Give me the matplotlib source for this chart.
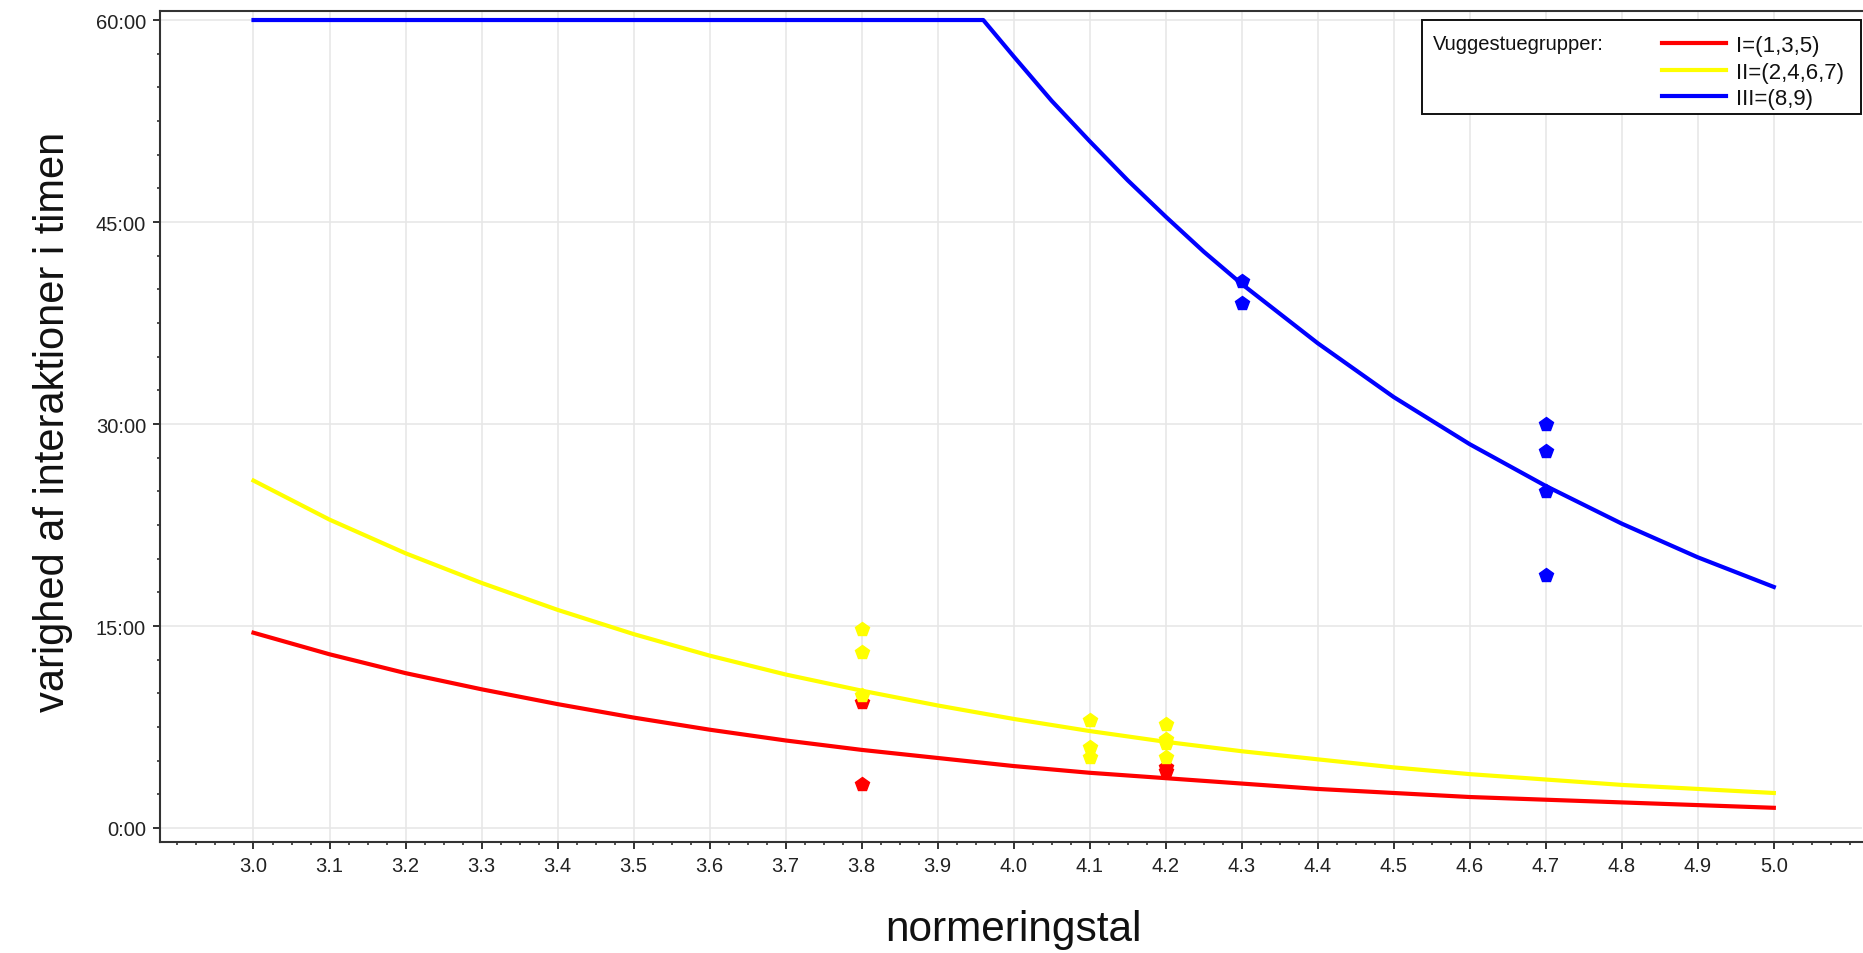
import matplotlib
matplotlib.use('Agg')
import matplotlib.pyplot as plt
from matplotlib.ticker import MultipleLocator, FuncFormatter
from matplotlib.patches import Rectangle

plt.rcParams['font.family'] = ['Liberation Sans', 'DejaVu Sans']

# Curves (normeringstal -> minutes per hour)
x_curve = [3.0, 3.1, 3.2, 3.3, 3.4, 3.5, 3.6, 3.7, 3.8, 3.9, 4.0,
           4.1, 4.2, 4.3, 4.4, 4.5, 4.6, 4.7, 4.8, 4.9, 5.0]
red_curve = [14.5, 12.9, 11.5, 10.3, 9.2, 8.2, 7.3, 6.5, 5.8, 5.2, 4.6,
             4.1, 3.7, 3.3, 2.9, 2.6, 2.3, 2.1, 1.9, 1.7, 1.5]
yellow_curve = [25.8, 22.9, 20.4, 18.2, 16.2, 14.4, 12.8, 11.4, 10.2, 9.1, 8.1,
                7.2, 6.4, 5.7, 5.1, 4.5, 4.0, 3.6, 3.2, 2.9, 2.6]
x_blue = [3.0, 3.96, 4.0, 4.05, 4.1, 4.15, 4.2, 4.25, 4.3, 4.4, 4.5, 4.6, 4.7, 4.8, 4.9, 5.0]
blue_curve = [60.0, 60.0, 57.3, 54.0, 51.0, 48.1, 45.4, 42.8, 40.4, 36.0, 32.0, 28.5,
              25.4, 22.6, 20.1, 17.9]

# Observations
red_x = [3.8, 3.8, 4.2, 4.2]
red_y = [9.35, 3.26, 4.5, 4.2]
yellow_x = [3.8, 3.8, 3.8, 4.1, 4.1, 4.1, 4.2, 4.2, 4.2, 4.2]
yellow_y = [14.8, 13.1, 9.9, 8.0, 6.0, 5.3, 7.7, 6.6, 6.3, 5.3]
blue_x = [4.3, 4.3, 4.7, 4.7, 4.7, 4.7]
blue_y = [40.65, 39.0, 30.0, 28.0, 25.0, 18.8]

labels = ['I=(1,3,5)', 'II=(2,4,6,7)', 'III=(8,9)']
colors = ['#ff0000', '#ffff00', '#0000ff']

W, H = 1863, 954
fig = plt.figure(figsize=(W / 100, H / 100), dpi=100)
ax = fig.add_axes([160 / W, 1 - 843 / H, (1862 - 160) / W, (843 - 12) / H])

ax.grid(color='#e6e6e6', linewidth=1.1, zorder=0)
ax.set_axisbelow(True)

lines = []
lines += ax.plot(x_curve, red_curve, color=colors[0], linewidth=3, zorder=3)
lines += ax.plot(x_curve, yellow_curve, color=colors[1], linewidth=3, zorder=3)
lines += ax.plot(x_blue, blue_curve, color=colors[2], linewidth=3, zorder=3)

ax.plot(red_x, red_y, 'p', color=colors[0], markersize=10, zorder=4)
ax.plot(yellow_x, yellow_y, 'p', color=colors[1], markersize=10, zorder=4)
ax.plot(blue_x, blue_y, 'p', color=colors[2], markersize=10, zorder=4)

ax.set_xlim(2.877, 5.116)
ax.set_ylim(-1.04, 60.67)

ax.set_xticks(x_curve)
ax.set_xticklabels(['%.1f' % v for v in x_curve])
ax.xaxis.set_minor_locator(MultipleLocator(0.025))
ax.set_yticks([0, 15, 30, 45, 60])
ax.yaxis.set_major_formatter(FuncFormatter(lambda v, p: '%d:00' % v))
ax.yaxis.set_minor_locator(MultipleLocator(2.5))

ax.tick_params(which='major', length=5, width=1.3, labelsize=14.5, colors='#222222', pad=5)
ax.tick_params(which='minor', length=2.5, width=1.1, colors='#222222')

for s in ['left', 'bottom', 'top']:
    ax.spines[s].set_color('#333333')
    ax.spines[s].set_linewidth(1.5)
ax.spines['right'].set_visible(False)

fig.text(53 / W, 1 - 422 / H, 'varighed af interaktioner i timen', rotation=90,
         fontsize=30, ha='center', va='center', color='#111111')
fig.text(1013 / W, 1 - 930 / H, 'normeringstal', fontsize=30.5,
         ha='center', va='center', color='#111111')

# Legend box
box = Rectangle((1422 / W, 1 - 115 / H), (1861 - 1422) / W, (115 - 21) / H,
                transform=fig.transFigure, facecolor='white', edgecolor='#111111',
                linewidth=1.4, zorder=6, clip_on=False)
ax.add_patch(box)
ax.text(1433 / W, 1 - 44 / H, 'Vuggestuegrupper:', transform=fig.transFigure,
        fontsize=14.5, ha='left', va='center', color='#111111', zorder=8)
leg = ax.legend(lines, labels, loc='upper left', bbox_to_anchor=(1662 / W, 1 - 36 / H),
                bbox_transform=fig.transFigure, frameon=False, fontsize=16,
                handlelength=2.9, handletextpad=0.45, labelspacing=0.25,
                borderpad=0, borderaxespad=0)
for t in leg.get_texts():
    t.set_color('#111111')
leg.set_zorder(9)

fig.savefig('out.png', dpi=100)
